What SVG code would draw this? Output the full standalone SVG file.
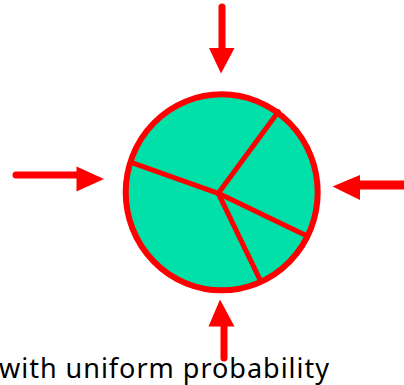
<svg xmlns="http://www.w3.org/2000/svg" width="404" height="385" viewBox="0 0 404 385">
<style>
.shaft{stroke:#ff0000;stroke-width:7;stroke-linecap:round;fill:none}
.head{fill:#ff0000}
.spoke{stroke:#ff0000;stroke-width:5;stroke-linecap:round;fill:none}
.lbl{font-family:"Noto Sans","DejaVu Sans",sans-serif;font-size:27px;fill:#000}
</style>
<g id="wheel">
<ellipse cx="221.7" cy="192.3" rx="96" ry="98" fill="#00e0a8" stroke="#ff0000" stroke-width="6"/>
<line class="spoke" x1="218.3" y1="193.3" x2="278.3" y2="111.7"/>
<line class="spoke" x1="218.3" y1="193.3" x2="131.7" y2="162.7"/>
<line class="spoke" x1="218.3" y1="193.3" x2="305" y2="235"/>
<line class="spoke" x1="218.3" y1="193.3" x2="259.3" y2="278.3"/>
</g>
<g id="connectors">
<g id="arrow-top">
<line class="shaft" x1="222" y1="7" x2="222" y2="50"/>
<polygon class="head" points="209,48 234.5,48 221,73.5"/>
</g>
<g id="arrow-left">
<line class="shaft" x1="16" y1="175" x2="78" y2="175"/>
<polygon class="head" points="76.5,166.5 76.5,191.5 104,179"/>
</g>
<g id="arrow-right">
<line x1="358" y1="185" x2="404" y2="185" stroke="#ff0000" stroke-width="9"/>
<polygon class="head" points="360,175 360,200 332.5,186.5"/>
</g>
<g id="arrow-bottom">
<line class="shaft" x1="224" y1="324" x2="224" y2="358"/>
<polygon class="head" points="208.5,326.5 234.5,326.5 220,299.5"/>
</g>
</g>
<text class="lbl" x="-1" y="378" textLength="330" lengthAdjust="spacing">with uniform probability</text>
</svg>
